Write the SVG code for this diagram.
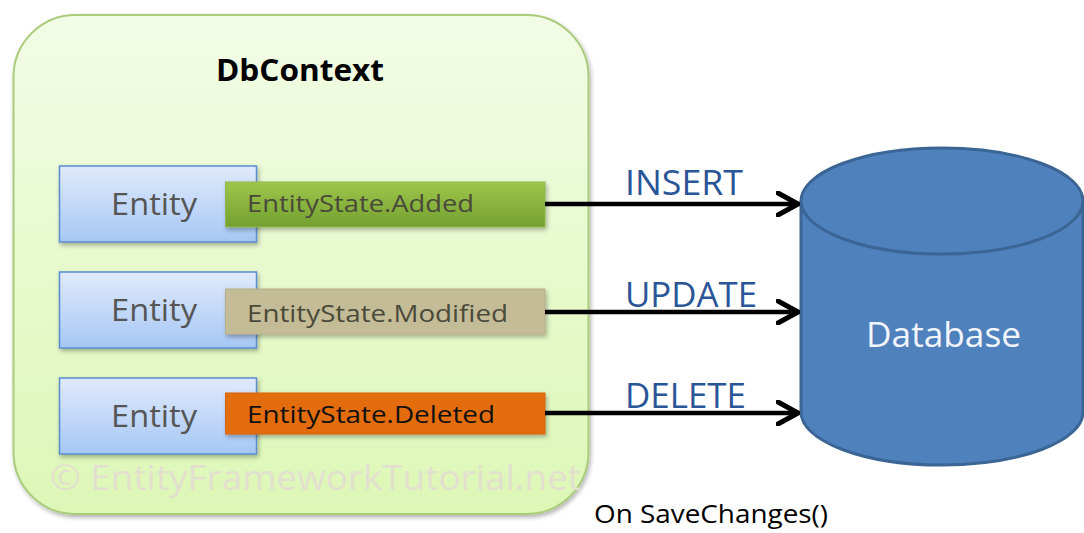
<svg xmlns="http://www.w3.org/2000/svg" width="1084" height="533" viewBox="0 0 1084 533">
  <defs>
    <linearGradient id="ctxFill" x1="0" y1="0" x2="0" y2="1">
      <stop offset="0" stop-color="#f2fce6"/>
      <stop offset="1" stop-color="#ddf7b6"/>
    </linearGradient>
    <linearGradient id="entityFill" x1="0" y1="0" x2="0" y2="1">
      <stop offset="0" stop-color="#e0eafc"/>
      <stop offset="1" stop-color="#a6c7f4"/>
    </linearGradient>
    <linearGradient id="addedFill" x1="0" y1="0" x2="0" y2="1">
      <stop offset="0" stop-color="#9ec64b"/>
      <stop offset="1" stop-color="#73a030"/>
    </linearGradient>
    <filter id="shadow" x="-10%" y="-10%" width="125%" height="130%">
      <feDropShadow dx="1.5" dy="2.5" stdDeviation="2" flood-color="#000" flood-opacity="0.3"/>
    </filter>
    <marker id="openArrow" viewBox="0 0 24 26" refX="22" refY="13" markerWidth="24" markerHeight="26" markerUnits="userSpaceOnUse" orient="auto">
      <path d="M2,2 L22,13 L2,24" fill="none" stroke="#000" stroke-width="5" stroke-linecap="round" stroke-linejoin="round"/>
    </marker>
  </defs>
  <style>
    .sans { font-family: "Open Sans", "Liberation Sans", sans-serif; }
    .entity { fill: url(#entityFill); stroke: #5a8ccf; stroke-width: 1.5; }
    .entityText { font-size: 31px; fill: #555555; }
    .stateText { font-size: 24px; fill: #4a4a3a; }
    .opText { font-size: 35px; fill: #2a5597; }
    .flow { stroke: #000; stroke-width: 4.5; fill: none; marker-end: url(#openArrow); }
  </style>

  <rect width="1084" height="533" fill="#ffffff"/>

  <!-- DbContext container -->
  <g id="dbcontext">
    <rect x="13.5" y="15" width="575" height="499" rx="62" ry="62" fill="url(#ctxFill)" stroke="#a9cb7a" stroke-width="2" filter="url(#shadow)"/>
    <text class="sans" x="300" y="81" text-anchor="middle" font-size="31" font-weight="bold" fill="#000" textLength="168" lengthAdjust="spacingAndGlyphs">DbContext</text>
    <text class="sans" x="50" y="490" font-size="35" fill="#e3dfcf" textLength="531" lengthAdjust="spacingAndGlyphs">© EntityFrameworkTutorial.net</text>
  </g>

  <!-- Entity rows -->
  <g id="entity-added">
    <rect class="entity" x="59.5" y="166" width="197" height="76" filter="url(#shadow)"/>
    <rect x="225.5" y="182" width="319.5" height="45" fill="url(#addedFill)" stroke="#8db84d" stroke-width="1" filter="url(#shadow)"/>
    <text class="sans entityText" x="111" y="215" textLength="86" lengthAdjust="spacingAndGlyphs">Entity</text>
    <text class="sans stateText" x="247" y="212" textLength="227" lengthAdjust="spacingAndGlyphs">EntityState.Added</text>
  </g>
  <g id="entity-modified">
    <rect class="entity" x="59.5" y="272" width="197" height="76" filter="url(#shadow)"/>
    <rect x="225.5" y="289" width="319.5" height="45" fill="#c4bb97" stroke="#b8ae88" stroke-width="1" filter="url(#shadow)"/>
    <text class="sans entityText" x="111" y="321" textLength="86" lengthAdjust="spacingAndGlyphs">Entity</text>
    <text class="sans stateText" x="247" y="322" textLength="261" lengthAdjust="spacingAndGlyphs">EntityState.Modified</text>
  </g>
  <g id="entity-deleted">
    <rect class="entity" x="59.5" y="378" width="197" height="76" filter="url(#shadow)"/>
    <rect x="225.5" y="393" width="319.5" height="41" fill="#e36c0a" stroke="#d86508" stroke-width="1" filter="url(#shadow)"/>
    <text class="sans entityText" x="111" y="427" textLength="86" lengthAdjust="spacingAndGlyphs">Entity</text>
    <text class="sans stateText" x="247" y="423" style="fill:#111" textLength="248" lengthAdjust="spacingAndGlyphs">EntityState.Deleted</text>
  </g>

  <!-- Database cylinder -->
  <g id="database">
    <path d="M801,201 L801,412 A141,53 0 0 0 1083,412 L1083,201" fill="#4f81bd" stroke="#3a6595" stroke-width="3"/>
    <ellipse cx="942" cy="201" rx="141" ry="53" fill="#4f81bd" stroke="#3a6595" stroke-width="3"/>
    <text class="sans" x="866" y="347" font-size="34" fill="#f2f5fb" textLength="155" lengthAdjust="spacingAndGlyphs">Database</text>
  </g>

  <!-- Connectors -->
  <g id="connectors">
    <line class="flow" x1="545" y1="204" x2="798" y2="204"/>
    <line class="flow" x1="545" y1="312" x2="798" y2="312"/>
    <line class="flow" x1="545" y1="413" x2="798" y2="413"/>
    <text class="sans opText" x="625" y="195" textLength="118" lengthAdjust="spacingAndGlyphs">INSERT</text>
    <text class="sans opText" x="625" y="307" textLength="132" lengthAdjust="spacingAndGlyphs">UPDATE</text>
    <text class="sans opText" x="625" y="408" textLength="121" lengthAdjust="spacingAndGlyphs">DELETE</text>
    <text class="sans" x="594" y="523" font-size="25" fill="#000" textLength="234" lengthAdjust="spacingAndGlyphs">On SaveChanges()</text>
  </g>
</svg>
